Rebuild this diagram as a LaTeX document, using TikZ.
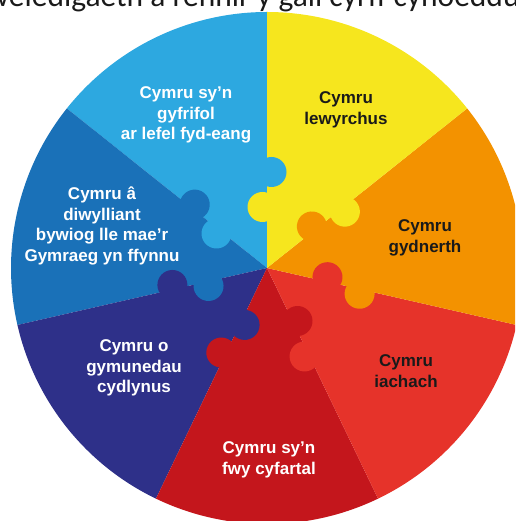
\documentclass[tikz,border=0pt]{standalone}
\usepackage{fontspec}
\setmainfont{Liberation Sans}
\newfontfamily\titlefont{Carlito}
\definecolor{cLightBlue}{RGB}{45,168,224}
\definecolor{cMidBlue}{RGB}{26,113,184}
\definecolor{cIndigo}{RGB}{46,48,137}
\definecolor{cDarkRed}{RGB}{196,22,28}
\definecolor{cRed}{RGB}{230,51,42}
\definecolor{cOrange}{RGB}{243,146,0}
\definecolor{cYellow}{RGB}{246,230,30}
\definecolor{cInk}{RGB}{26,26,26}
\tikzset{
  lbl/.style={font=\bfseries\fontsize{17}{20.5}\selectfont, align=center, inner sep=0pt},
  lblw/.style={lbl, text=white},
  lblk/.style={lbl, text=cInk},
}
\newcommand{\sectorfill}[3]{%
  \fill[#3] (0,0) -- (#1:256) arc[start angle=#1, end angle=#2, radius=256] -- cycle;}
% a jigsaw knob: neck plus round head, in a frame where the seam is the x-axis
\newcommand{\knob}[4]{% angle, distance, side (+1/-1), colour
  \fill[#4, rotate=#1] (#2-9,0) rectangle (#2+9,#3*6);
  \fill[#4, rotate=#1] (#2,#3*4.5) circle (15);}
\newcommand{\knobpair}[3]{% angle, higher colour, lower colour
  \knob{#1}{96}{-1}{#2}
  \knob{#1}{61}{1}{#3}}
\begin{document}
\begin{tikzpicture}[x=1pt,y=1pt]
\useasboundingbox (-267,-253) rectangle (248,268);
\clip (-267,-253) rectangle (248,268);
% sectors
\sectorfill{90}{141.43}{cLightBlue}
\sectorfill{141.43}{192.86}{cMidBlue}
\sectorfill{192.86}{244.29}{cIndigo}
\sectorfill{244.29}{295.71}{cDarkRed}
\sectorfill{295.71}{347.14}{cRed}
\sectorfill{347.14}{398.57}{cOrange}
\sectorfill{38.57}{90}{cYellow}
% jigsaw knobs
\knobpair{90}{cLightBlue}{cYellow}
\knobpair{141.43}{cMidBlue}{cLightBlue}
\knobpair{192.86}{cIndigo}{cMidBlue}
\knobpair{244.29}{cDarkRed}{cIndigo}
\knobpair{295.71}{cRed}{cDarkRed}
\knobpair{347.14}{cOrange}{cRed}
\knobpair{38.57}{cYellow}{cOrange}
% title (cut off by the top edge)
\node[font=\titlefont\fontsize{31.5}{35}\selectfont, text=cInk, anchor=base west, inner sep=0pt]
  (title) at (-10,261) {\llap{gweledigaeth a rennir }y gall cyrff cyhoeddus};
% labels
\node[lblw] (global) at (-81,153) {Cymru sy’n\\gyfrifol\\ar lefel fyd-eang};
\node[lblk] (prosper) at (79,158) {Cymru\\lewyrchus};
\node[lblk] (resil) at (158,30) {Cymru\\gydnerth};
\node[lblk] (health) at (139,-103) {Cymru\\iachach};
\node[lblw] (equal) at (2,-192) {Cymru sy’n\\fwy cyfartal};
\node[lblw] (cohes) at (-133,-100) {Cymru o\\gymunedau\\cydlynus};
\node[lblw] (cult) at (-165,42) {Cymru â\\diwylliant\\bywiog lle mae’r\\Gymraeg yn ffynnu};
\end{tikzpicture}
\end{document}
